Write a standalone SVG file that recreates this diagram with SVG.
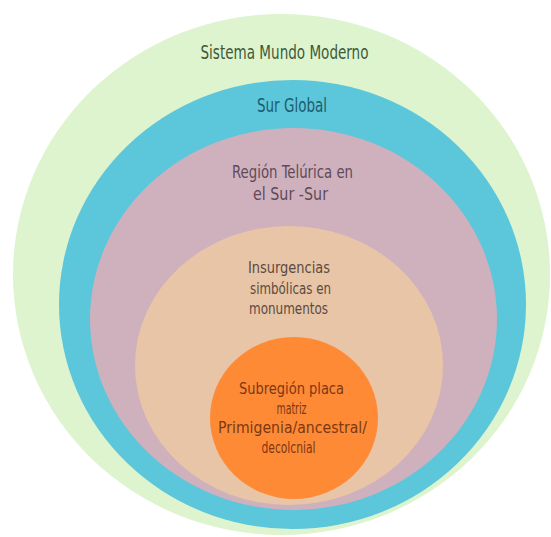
<svg xmlns="http://www.w3.org/2000/svg" width="551" height="537" viewBox="0 0 551 537">
<style>
text{font-family:"DejaVu Sans Condensed","Liberation Sans",sans-serif;text-anchor:middle}
.t1{font-size:19px;fill:#3e5a3a}
.t2{font-size:19px;fill:#1d5d6d}
.t3{font-size:18px;fill:#5e4a58}
.t4{font-size:16px;fill:#5a4a40}
.t5{font-size:16px;fill:#7a3814}
</style>
<rect width="551" height="537" fill="#ffffff"/>
<g id="sistema-mundo-moderno">
<ellipse cx="281.5" cy="274.5" rx="268.5" ry="260.5" fill="#ddf4cf"/>
<text class="t1" x="284.5" y="59" textLength="168" lengthAdjust="spacingAndGlyphs">Sistema Mundo Moderno</text>
</g>
<g id="sur-global">
<ellipse cx="292.5" cy="304.5" rx="233.5" ry="224.5" fill="#5cc6da"/>
<text class="t2" x="292" y="112" textLength="70" lengthAdjust="spacingAndGlyphs">Sur Global</text>
</g>
<g id="region-telurica">
<ellipse cx="293.5" cy="319" rx="203.5" ry="191" fill="#cfb1be"/>
<text class="t3" x="292.5" y="178" textLength="121" lengthAdjust="spacingAndGlyphs">Región Telúrica en</text>
<text class="t3" x="290.5" y="200" textLength="75" lengthAdjust="spacingAndGlyphs">el Sur -Sur</text>
</g>
<g id="insurgencias">
<ellipse cx="289" cy="365.5" rx="154" ry="139.5" fill="#e8c5a7"/>
<text class="t4" x="289" y="273" textLength="82" lengthAdjust="spacingAndGlyphs">Insurgencias</text>
<text class="t4" x="290.5" y="294" textLength="81" lengthAdjust="spacingAndGlyphs">simbólicas en</text>
<text class="t4" x="288.5" y="314" textLength="79" lengthAdjust="spacingAndGlyphs">monumentos</text>
</g>
<g id="subregion">
<ellipse cx="294" cy="418" rx="84" ry="81" fill="#ff8a35"/>
<text class="t5" x="291.5" y="394" textLength="105" lengthAdjust="spacingAndGlyphs">Subregión placa</text>
<text class="t5" x="291.5" y="413.5" textLength="30" lengthAdjust="spacingAndGlyphs">matriz</text>
<text class="t5" x="292.5" y="433" textLength="149" lengthAdjust="spacingAndGlyphs">Primigenia/ancestral/</text>
<text class="t5" x="288.5" y="452.5" textLength="54" lengthAdjust="spacingAndGlyphs">decolcnial</text>
</g>
</svg>
